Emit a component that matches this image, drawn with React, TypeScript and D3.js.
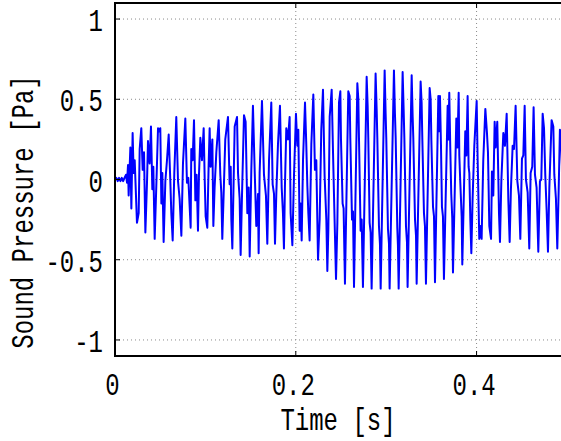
import React, { useRef, useEffect } from "react";
import * as d3 from "d3";

// time in ms, sound pressure in Pa
const onsetPart: [number, number][] = [
  [0, 0], [1.5, 0.01], [3, -0.01], [4.5, 0.01], [6, -0.01], [7.5, 0.01], [9, -0.01], [10.5, 0.01],
  [12.2, 0.03], [13.3, -0.02], [14.4, 0.09], [15.1, -0.1], [17.0, 0.2], [18.1, -0.18], [19.5, 0.29],
  [20.6, 0.04], [21.8, 0.12], [23.2, -0.1], [24.3, -0.27], [26.2, -0.21], [27.3, 0.19], [29.1, 0.32],
  [30.6, 0.06], [32.1, 0.17], [33.6, -0.33], [35.4, -0.02], [36.5, 0.24], [38.3, 0.1], [39.8, 0.33],
  [41.3, -0.06], [42.4, 0.08], [43.9, -0.37], [45.7, -0.04], [47.6, 0.32], [49.0, 0.3], [50.1, 0.32],
  [51.3, -0.15], [52.4, 0.04], [53.8, -0.39], [55.7, -0.01], [57.5, 0.12], [59.4, 0.28], [61.2, -0.01],
  [62.3, -0.21], [63.8, -0.38], [65.6, 0.04], [67.8, 0.39], [69.7, -0.01], [71.5, -0.12], [73.4, -0.35],
  [75.2, 0.1], [77.8, 0.38], [79.6, -0.02], [81.1, 0.01],
];

const earlyPart: [number, number][] = [
  [83.7, -0.3], [84.4, 0.19], [85.9, 0.12], [87.4, 0.37], [88.9, -0.13], [90.3, 0.03], [91.8, -0.32],
  [92.9, 0.03], [94.4, 0.26], [96.2, 0.12], [98.1, 0.32], [99.2, 0.01], [100.3, -0.23], [102.1, -0.3],
  [103.6, 0.09], [104.7, 0.32], [105.8, 0.08], [107.7, 0.25], [108.8, -0.29], [110.2, -0.05], [112.1, 0.17],
  [114.7, 0.37], [116.5, 0.03], [117.6, -0.08], [118.7, -0.37], [120.2, -0.09], [122.0, 0.25], [125.0, 0.39],
  [126.8, -0.03], [128.0, 0.08], [128.7, -0.25], [129.8, -0.43], [132.4, 0.33], [135.0, 0.39], [136.1, 0.04],
  [137.9, -0.12], [139.0, -0.47], [140.5, -0.1], [142.7, 0.4], [144.5, 0.36], [146.4, -0.21], [147.9, -0.05],
  [149.0, -0.48], [150.8, 0.06], [152.6, 0.46], [154.5, 0.06], [156.3, -0.29], [158.2, -0.09], [158.9, -0.46],
  [160.0, 0.04], [162.6, 0.49], [164.8, 0.03], [167.0, -0.1], [168.5, -0.4],
];

const risePart: [number, number][] = [
  [170.4, 0.12], [172.9, 0.48], [174.4, -0.03], [175.9, -0.09], [177.0, -0.4], [178.5, -0.08], [180.3, 0.22],
  [182.5, 0.46], [184.4, -0.05], [185.8, -0.21], [186.9, -0.43], [188.0, -0.04], [189.5, 0.32], [191.4, 0.25],
  [193.2, 0.39], [194.3, -0.21], [196.2, -0.41], [198.0, 0.02], [200.2, 0.41], [201.7, 0.21], [202.8, 0.31],
  [204.3, -0.32], [205.4, -0.15], [206.5, -0.38], [208.0, 0.12], [210.2, 0.48], [211.6, 0.22], [212.8, -0.04],
  [213.9, -0.21], [215.3, -0.38], [217.2, 0.22], [219.4, 0.53], [221.2, 0.06], [222.7, 0.12], [223.8, -0.24],
  [224.6, -0.5], [226.4, -0.25], [228.2, 0.31], [230.1, 0.56], [231.9, 0.02], [233.8, -0.25], [234.9, -0.57],
  [236.0, -0.32], [237.5, 0.39], [239.7, 0.56], [241.1, 0.19], [242.2, -0.08], [243.0, -0.27], [244.5, -0.62],
  [246.0, -0.27], [247.8, 0.48], [249.3, 0.55],
];

const peakPart: [number, number][] = [
  [250.0, 0.25], [251.8, -0.15], [252.9, -0.18], [254.4, -0.65], [258.1, 0.55], [259.6, 0.52], [260.3, 0.26],
  [262.2, -0.25], [263.3, -0.2], [264.4, -0.67], [268.1, 0.6], [269.2, 0.5], [269.9, 0.26], [271.7, -0.32],
  [272.9, -0.25], [274.3, -0.67], [278.4, 0.64], [279.5, 0.46], [280.2, 0.26], [281.7, -0.27], [282.8, -0.33],
  [283.9, -0.68], [288.3, 0.66], [289.5, 0.43], [290.2, 0.26], [292.0, -0.29], [293.1, -0.4], [293.9, -0.68],
  [298.3, 0.68], [299.4, 0.41], [300.1, 0.26], [302.0, -0.31], [303.1, -0.4], [303.8, -0.68], [308.6, 0.68],
  [309.7, 0.41], [310.5, 0.26], [312.3, -0.3], [313.0, -0.41], [313.8, -0.68], [318.2, 0.67], [319.3, 0.44],
  [320.1, 0.26], [321.9, -0.29], [323.0, -0.39], [323.7, -0.67], [328.2, 0.65], [329.3, 0.39], [330.0, 0.26],
  [331.9, -0.25], [333.0, -0.35], [333.7, -0.65],
];

const decayPart: [number, number][] = [
  [338.1, 0.61], [339.2, 0.48], [340.0, 0.25], [341.8, -0.21], [342.9, -0.29], [344.0, -0.65], [348.1, 0.57],
  [349.2, 0.5], [350.0, 0.24], [351.8, -0.17], [352.9, -0.23], [354.0, -0.64], [357.7, 0.52], [358.6, 0.3],
  [359.5, 0.52], [360.6, 0.22], [361.7, -0.17], [362.8, -0.23], [363.9, -0.62], [368.0, 0.46], [368.9, 0.25],
  [369.8, 0.54], [370.9, 0.2], [372.0, -0.09], [373.1, -0.24], [373.9, -0.58], [377.6, 0.38], [378.8, 0.2],
  [380.2, 0.54], [380.9, 0.15], [382.0, -0.02], [383.5, -0.23], [384.2, -0.53], [387.5, 0.3], [388.7, 0.15],
  [390.1, 0.52], [391.2, 0.08], [392.0, 0.04], [393.1, -0.25], [394.2, -0.46], [395.6, -0.12], [397.5, 0.21],
  [400.1, 0.49], [401.2, 0.12], [403.0, -0.37], [404.1, -0.29], [405.6, -0.37], [407.4, 0.12], [409.7, 0.44],
  [411.5, 0.29], [412.6, 0.17], [414.1, -0.29], [416.0, -0.37], [417.0, 0.05], [418.5, -0.1], [420.0, 0.36],
];

const tailPart: [number, number][] = [
  [421.1, 0.2], [422.9, 0.36], [424.8, -0.21], [425.9, -0.39], [427.4, -0.01], [429.6, 0.29], [431.4, 0.21],
  [433.3, 0.41], [435.1, -0.12], [436.6, -0.39], [438.0, -0.06], [439.9, 0.21], [441.4, 0.19], [443.2, 0.46],
  [445.1, -0.01], [446.9, -0.1], [448.4, -0.37], [450.2, 0.13], [451.7, 0.15], [453.2, 0.46], [454.6, 0.0],
  [456.5, -0.08], [458.3, -0.43], [459.8, 0.04], [461.6, 0.08], [463.1, 0.45], [464.6, 0.03], [466.4, -0.05],
  [468.3, -0.45], [470.1, -0.01], [471.6, 0.0], [473.1, 0.41], [474.6, 0.32], [476.0, 0.03], [477.5, -0.19],
  [479.0, -0.45], [480.5, -0.05], [483.0, 0.37], [484.9, 0.33], [486.0, 0.03], [487.8, -0.12], [489.3, -0.43],
  [490.8, -0.07], [492.2, 0.31], [493.4, 0.27], [495.0, 0.0], [497.0, -0.3],
];

const xTicks = [0, 0.2, 0.4];
const xTickLabels = ["0", "0.2", "0.4"];
const yTicks = [-1, -0.5, 0, 0.5, 1];
const yTickLabels = ["-1", "-0.5", "0", "0.5", "1"];
const xDomain = [0, 0.4934];
const yDomain = [-1.1, 1.1];

const App = () => {
  const svgRef = useRef<SVGSVGElement>(null);

  useEffect(() => {
    const w = 561;
    const h = 441;
    const left = 115, right = 561, top = 3, bottom = 356;
    const font = "'Liberation Mono', monospace";
    const fontSize = 32;
    const squeeze = 0.75;

    const svg = d3.select(svgRef.current).attr("width", w).attr("height", h).style("background", "#fff");
    svg.selectAll("*").remove();

    const x = d3.scaleLinear().domain(xDomain).range([left, right]);
    const y = d3.scaleLinear().domain(yDomain).range([bottom, top]);

    // dotted grid
    const grid = svg.append("g").attr("stroke", "#8a8a8a").attr("stroke-width", 1).attr("stroke-dasharray", "1,3");
    yTicks.forEach((v) => {
      grid.append("line").attr("x1", left).attr("x2", right).attr("y1", y(v)).attr("y2", y(v));
    });
    xTicks.filter((v) => v > 0).forEach((v) => {
      grid.append("line").attr("x1", x(v)).attr("x2", x(v)).attr("y1", top).attr("y2", bottom);
    });

    // waveform
    svg.append("clipPath").attr("id", "plotclip")
      .append("rect").attr("x", left).attr("y", top).attr("width", right - left).attr("height", bottom - top);

    const trace = [...onsetPart, ...earlyPart, ...risePart, ...peakPart, ...decayPart, ...tailPart];
    const line = d3.line<[number, number]>()
      .x((d) => x(d[0] / 1000))
      .y((d) => y(d[1]));

    svg.append("path")
      .datum(trace)
      .attr("clip-path", "url(#plotclip)")
      .attr("d", line)
      .attr("fill", "none")
      .attr("stroke", "#0000ff")
      .attr("stroke-width", 2)
      .attr("stroke-linejoin", "round");

    // box + inner ticks
    const axes = svg.append("g").attr("stroke", "#000");
    axes.append("line").attr("x1", left).attr("x2", left).attr("y1", top - 1).attr("y2", bottom + 1).attr("stroke-width", 2);
    axes.append("line").attr("x1", left).attr("x2", right).attr("y1", top).attr("y2", top).attr("stroke-width", 2);
    axes.append("line").attr("x1", left).attr("x2", right).attr("y1", bottom).attr("y2", bottom).attr("stroke-width", 2);
    yTicks.forEach((v) => {
      axes.append("line").attr("x1", left).attr("x2", left + 5).attr("y1", y(v)).attr("y2", y(v)).attr("stroke-width", 1);
    });
    xTicks.forEach((v) => {
      axes.append("line").attr("x1", x(v)).attr("x2", x(v)).attr("y1", bottom).attr("y2", bottom - 5).attr("stroke-width", 1);
      axes.append("line").attr("x1", x(v)).attr("x2", x(v)).attr("y1", top).attr("y2", top + 5).attr("stroke-width", 1);
    });

    const addText = (tx: number, ty: number, anchor: string, label: string, rotate = 0) => {
      svg.append("text")
        .attr("transform", `translate(${tx}, ${ty})${rotate ? ` rotate(${rotate})` : ""} scale(${squeeze},1)`)
        .attr("text-anchor", anchor)
        .attr("font-family", font)
        .attr("font-size", fontSize)
        .attr("fill", "#000")
        .text(label);
    };

    // tick labels
    yTicks.forEach((v, i) => addText(103, y(v) + 12, "end", yTickLabels[i]));
    xTicks.forEach((v, i) => addText(x(v) - 2.5, 395, "middle", xTickLabels[i]));

    // axis titles
    addText(338, 430, "middle", "Time [s]");
    addText(33, 212, "middle", "Sound Pressure [Pa]", -90);
  }, []);

  return (
    <div style={{ position: "absolute", left: 0, top: 0 }}>
      <svg ref={svgRef} style={{ display: "block" }}></svg>
    </div>
  );
};

export default App;
